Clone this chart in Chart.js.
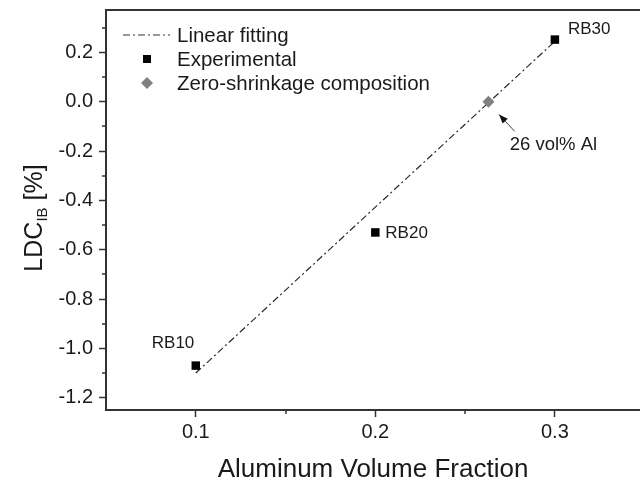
<!DOCTYPE html>
<html>
<head>
<meta charset="utf-8">
<script src="https://cdn.jsdelivr.net/npm/chart.js@4/dist/chart.umd.min.js"></script>
<style>
  html, body { margin: 0; padding: 0; background: #fff; overflow: hidden; }
  #wrap { width: 640px; height: 488px; }
</style>
</head>
<body>
<div id="wrap"><canvas id="c" width="640" height="488"></canvas></div>
<script>
// ---- data ----
const sampleNames = ['RB10', 'RB20', 'RB30'];
const alFraction = [0.1, 0.2, 0.3];
const ldcValues = [-1.07, -0.53, 0.252];
const fitX = [0.1, 0.3];
const fitY = [-1.10, 0.245];
const zeroX = [0.263];
const zeroY = [0.0];
const xTicks = [0.1, 0.2, 0.3];
const xMinorTicks = [0.15, 0.25];
const yTicks = [-1.2, -1.0, -0.8, -0.6, -0.4, -0.2, 0.0, 0.2];
const yMinorTicks = [-1.1, -0.9, -0.7, -0.5, -0.3, -0.1, 0.1, 0.3];
const legendLabels = ['Linear fitting', 'Experimental', 'Zero-shrinkage composition'];
const zeroLabel = '26 vol% Al';
const arrowFrom = [0.2776, -0.12];
const arrowTo = [0.2689, -0.052];

const FONT = '"Liberation Sans", Arial, Helvetica, sans-serif';
const TXT = '#1a1a1a';
const AX = '#333333';

const decor = {
  id: 'decor',
  afterDraw(chart) {
    const ctx = chart.ctx;
    const xs = chart.scales.x, ys = chart.scales.y;
    const a = chart.chartArea;
    ctx.save();
    // top frame line
    ctx.strokeStyle = AX; ctx.lineWidth = 2;
    ctx.beginPath(); ctx.moveTo(a.left - 1, a.top); ctx.lineTo(chart.width, a.top); ctx.stroke();
    // minor ticks
    ctx.lineWidth = 1.5;
    ctx.beginPath();
    xMinorTicks.forEach(v => { const px = Math.round(xs.getPixelForValue(v)); ctx.moveTo(px, a.bottom); ctx.lineTo(px, a.bottom + 4); });
    yMinorTicks.forEach(v => { const py = Math.round(ys.getPixelForValue(v)); ctx.moveTo(a.left, py); ctx.lineTo(a.left - 4, py); });
    ctx.stroke();

    // legend
    const lx = 123, ly0 = 35, dy = 24;
    ctx.strokeStyle = AX; ctx.lineWidth = 1.2;
    ctx.setLineDash([7, 3, 2, 3]);
    ctx.beginPath(); ctx.moveTo(lx, ly0); ctx.lineTo(lx + 47, ly0); ctx.stroke();
    ctx.setLineDash([]);
    ctx.fillStyle = '#000';
    ctx.fillRect(143, ly0 + dy - 4, 8, 8);
    ctx.fillStyle = '#808080';
    ctx.beginPath();
    const dx = 147, dyy = ly0 + 2 * dy;
    ctx.moveTo(dx - 6, dyy); ctx.lineTo(dx, dyy - 6); ctx.lineTo(dx + 6, dyy); ctx.lineTo(dx, dyy + 6); ctx.closePath(); ctx.fill();
    ctx.fillStyle = TXT;
    ctx.font = '20.5px ' + FONT;
    ctx.textAlign = 'left'; ctx.textBaseline = 'middle';
    legendLabels.forEach((t, i) => ctx.fillText(t, 177, ly0 + i * dy + 1));

    // point labels
    ctx.font = '17px ' + FONT;
    const offs = [[-44, -22], [10, 1], [13, -10]];
    sampleNames.forEach((n, i) => {
      const px = xs.getPixelForValue(alFraction[i]);
      const py = ys.getPixelForValue(ldcValues[i]);
      ctx.fillText(n, px + offs[i][0], py + offs[i][1]);
    });

    // arrow + label
    const fx = xs.getPixelForValue(arrowFrom[0]), fy = ys.getPixelForValue(arrowFrom[1]);
    const tx = xs.getPixelForValue(arrowTo[0]), ty = ys.getPixelForValue(arrowTo[1]);
    ctx.strokeStyle = '#444'; ctx.lineWidth = 1;
    ctx.beginPath(); ctx.moveTo(fx, fy); ctx.lineTo(tx, ty); ctx.stroke();
    const ang = Math.atan2(ty - fy, tx - fx);
    ctx.fillStyle = '#111';
    ctx.beginPath();
    ctx.moveTo(tx, ty);
    ctx.lineTo(tx - 9 * Math.cos(ang) + 3.5 * Math.sin(ang), ty - 9 * Math.sin(ang) - 3.5 * Math.cos(ang));
    ctx.lineTo(tx - 9 * Math.cos(ang) - 3.5 * Math.sin(ang), ty - 9 * Math.sin(ang) + 3.5 * Math.cos(ang));
    ctx.closePath(); ctx.fill();
    ctx.fillStyle = TXT;
    ctx.font = '18.5px ' + FONT;
    ctx.fillText(zeroLabel, fx - 5, fy + 14);

    // y axis title with subscript
    ctx.translate(33, 218);
    ctx.rotate(-Math.PI / 2);
    ctx.fillStyle = TXT;
    ctx.textBaseline = 'alphabetic';
    ctx.font = '25px ' + FONT;
    const p1 = 'LDC', p2 = 'IB', p3 = ' [%]';
    const w1 = ctx.measureText(p1).width;
    const w3 = ctx.measureText(p3).width;
    ctx.font = '15px ' + FONT;
    const w2 = ctx.measureText(p2).width;
    const total = w1 + w2 + w3;
    const x0 = -total / 2;
    const base = 9;
    ctx.font = '25px ' + FONT;
    ctx.fillText(p1, x0, base);
    ctx.font = '15px ' + FONT;
    ctx.fillText(p2, x0 + w1, base + 5);
    ctx.font = '25px ' + FONT;
    ctx.fillText(p3, x0 + w1 + w2, base);
    ctx.restore();
  }
};

new Chart(document.getElementById('c'), {
  type: 'scatter',
  data: {
    datasets: [
      {
        label: legendLabels[0],
        type: 'line',
        data: fitX.map((x, i) => ({ x, y: fitY[i] })),
        borderColor: '#2a2a2a',
        borderWidth: 1.2,
        borderDash: [7, 3, 2, 3],
        pointRadius: 0,
        fill: false,
        order: 3
      },
      {
        label: legendLabels[1],
        data: alFraction.map((x, i) => ({ x, y: ldcValues[i] })),
        pointStyle: 'rect',
        pointRadius: 6,
        backgroundColor: '#000',
        borderColor: '#000',
        borderWidth: 0,
        order: 1
      },
      {
        label: legendLabels[2],
        data: zeroX.map((x, i) => ({ x, y: zeroY[i] })),
        pointStyle: 'rectRot',
        pointRadius: 6,
        backgroundColor: '#808080',
        borderColor: '#808080',
        borderWidth: 0,
        order: 2
      }
    ]
  },
  options: {
    responsive: false,
    animation: false,
    events: [],
    layout: { autoPadding: false, padding: { left: 0, top: 10, right: 0, bottom: 0 } },
    plugins: { legend: { display: false }, tooltip: { enabled: false } },
    scales: {
      x: {
        type: 'linear',
        min: 0.05,
        max: 0.3474,
        afterBuildTicks: s => { s.ticks = xTicks.map(v => ({ value: v })); },
        afterFit: s => { s.height = 78; s.paddingLeft = 0; s.paddingRight = 0; },
        ticks: {
          callback: v => Number(v).toFixed(1),
          color: TXT,
          font: { family: FONT, size: 20 },
          padding: 3,
          maxRotation: 0
        },
        grid: { drawOnChartArea: false, drawTicks: true, tickLength: 7, tickColor: AX, tickWidth: 1.5 },
        border: { display: true, color: AX, width: 2 },
        title: {
          display: true,
          text: 'Aluminum Volume Fraction',
          color: TXT,
          font: { family: FONT, size: 26 },
          padding: { top: 4, bottom: 3 }
        }
      },
      y: {
        type: 'linear',
        min: -1.25,
        max: 0.372,
        afterBuildTicks: s => { s.ticks = yTicks.map(v => ({ value: v })); },
        afterFit: s => { s.width = 106; s.paddingTop = 0; s.paddingBottom = 0; },
        ticks: {
          callback: v => Number(v).toFixed(1),
          color: TXT,
          font: { family: FONT, size: 20 },
          padding: 6
        },
        grid: { drawOnChartArea: false, drawTicks: true, tickLength: 7, tickColor: AX, tickWidth: 1.5 },
        border: { display: true, color: AX, width: 2 }
      }
    }
  },
  plugins: [decor]
});
</script>
</body>
</html>
